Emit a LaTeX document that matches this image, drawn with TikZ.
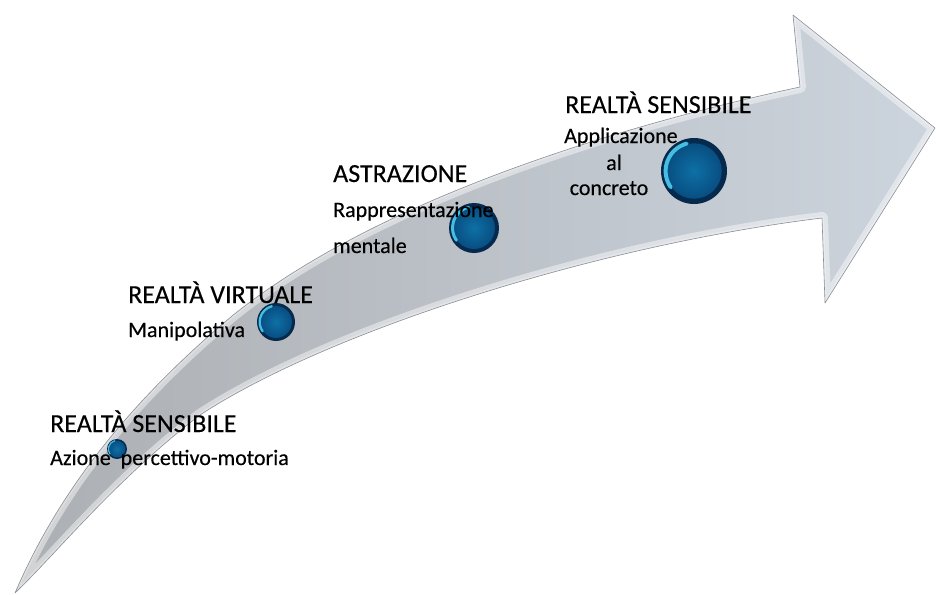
\documentclass[tikz,border=0pt]{standalone}
\usepackage{fontspec}
\setmainfont{Carlito}[FakeBold=0.35]
\usetikzlibrary{calc}
\definecolor{shaftA}{RGB}{172,175,179}
\definecolor{shaftB}{RGB}{204,212,221}
\definecolor{edgecol}{RGB}{140,144,150}
\definecolor{beadrim}{RGB}{6,42,78}
\definecolor{beadin}{RGB}{14,112,165}
\definecolor{beadout}{RGB}{8,78,130}
\definecolor{beadhl}{RGB}{70,190,225}
\tikzset{
  title/.style={anchor=base west, inner sep=0pt, font=\fontsize{26}{30}\selectfont, text=black},
  sub/.style={anchor=base west, inner sep=0pt, font=\fontsize{22}{26}\selectfont, text=black},
  subc/.style={anchor=base, inner sep=0pt, font=\fontsize{22}{26}\selectfont, text=black},
}
\begin{document}
\begin{tikzpicture}[x=1pt,y=-1pt]
\useasboundingbox (0,0) rectangle (936,594);
% arrow shape
\def\arrowpath{(15,593) .. controls (55,500) and (120,410) .. (232,316)
  .. controls (370,205) and (600,130) .. (800,87)
  -- (793,15) -- (935,128) -- (825,303) -- (822,218)
  .. controls (600,245) and (330,330) .. (200,415)
  .. controls (115,480) and (55,555) .. (15,593) -- cycle}
\shade[left color=shaftA, right color=shaftB] \arrowpath;
\begin{scope}
  \clip \arrowpath;
  \draw[white, opacity=0.45, line width=12pt, line join=round] \arrowpath;
  \draw[white, opacity=0.25, line width=4pt, line join=round] \arrowpath;
\end{scope}
\draw[edgecol, line width=0.6pt, line join=round] \arrowpath;
% beads
\foreach \n/\x/\y/\r in {b1/117/449/10, b2/276/322/19, b3/474/228/25, b4/694/171/33} {
  \coordinate (\n) at (\x,\y);
  \fill[beadrim] (\n) circle[radius=\r];
  \shade[inner color=beadin, outer color=beadout] (\n) circle[radius=0.84*\r];
  \draw[beadhl, line width={0.12*\r*1pt}, line cap=round] (\n) ++(-105:0.86*\r) arc[start angle=-105, end angle=-215, radius=0.86*\r];
}
% labels
\node[title] (t1) at (50,432) {REALTÀ SENSIBILE};
\node[sub] (s1) at (50,465) {Azione\ \ percettivo-motoria};
\node[title] (t2) at (128,303) {REALTÀ VIRTUALE};
\node[sub] (s2) at (128,337) {Manipolativa};
\node[title] (t3) at (333,182) {ASTRAZIONE};
\node[sub] (s3a) at (333,217) {Rappresentazione};
\node[sub] (s3b) at (333,253) {mentale};
\node[title] (t4) at (565,113) {REALTÀ SENSIBILE};
\node[sub] (s4a) at (564,143) {Applicazione};
\node[subc] (s4b) at (614,170) {al};
\node[subc] (s4c) at (609,195) {concreto};
\end{tikzpicture}
\end{document}
